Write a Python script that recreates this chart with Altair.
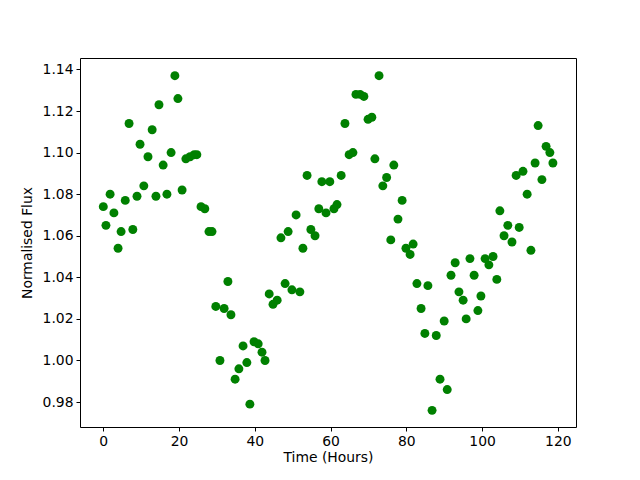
import altair as alt
import pandas as pd

hours = [0.0, 0.7, 1.8, 2.8, 3.9, 4.7, 5.8, 6.8, 7.8, 8.9, 9.7, 10.7, 11.8, 12.9, 13.9, 14.7,
         15.8, 16.8, 17.9, 18.9, 19.7, 20.8, 21.8, 22.9, 24.0, 24.7, 25.8, 26.8, 27.9, 28.7,
         29.7, 30.8, 31.9, 32.9, 33.7, 34.8, 35.8, 36.9, 37.9, 38.7, 39.8, 40.9, 41.9, 42.7,
         43.8, 44.8, 45.9, 46.9, 48.0, 48.8, 49.8, 50.9, 51.9, 52.7, 53.8, 54.8, 55.9, 56.9,
         57.7, 58.8, 59.8, 60.9, 61.7, 62.8, 63.8, 64.9, 65.9, 66.7, 67.8, 68.8, 69.9, 70.9,
         71.7, 72.8, 73.8, 74.8, 75.9, 76.7, 77.8, 78.9, 79.9, 81.0, 81.8, 82.8, 83.9, 84.9,
         85.7, 86.8, 87.9, 88.9, 90.0, 90.8, 91.8, 92.9, 93.9, 95.0, 95.8, 96.8, 97.9, 98.9,
         99.7, 100.8, 101.8, 102.9, 103.9, 104.7, 105.8, 106.8, 107.9, 109.0, 109.8, 110.8,
         111.9, 112.9, 114.0, 114.8, 115.8, 116.9, 117.9, 118.7]

flux = [1.074, 1.065, 1.080, 1.071, 1.054, 1.062, 1.077, 1.114, 1.063, 1.079, 1.104, 1.084,
        1.098, 1.111, 1.079, 1.123, 1.094, 1.080, 1.100, 1.137, 1.126, 1.082, 1.097, 1.098,
        1.099, 1.099, 1.074, 1.073, 1.062, 1.062, 1.026, 1.000, 1.025, 1.038, 1.022, 0.991,
        0.996, 1.007, 0.999, 0.979, 1.009, 1.008, 1.004, 1.000, 1.032, 1.027, 1.029, 1.059,
        1.037, 1.062, 1.034, 1.070, 1.033, 1.054, 1.089, 1.063, 1.060, 1.073, 1.086, 1.071,
        1.086, 1.073, 1.075, 1.089, 1.114, 1.099, 1.100, 1.128, 1.128, 1.127, 1.116, 1.117,
        1.097, 1.137, 1.084, 1.088, 1.058, 1.094, 1.068, 1.077, 1.054, 1.051, 1.056, 1.037,
        1.025, 1.013, 1.036, 0.976, 1.012, 0.991, 1.019, 0.986, 1.041, 1.047, 1.033, 1.029,
        1.020, 1.049, 1.041, 1.024, 1.031, 1.049, 1.046, 1.050, 1.039, 1.072, 1.060, 1.065,
        1.057, 1.089, 1.064, 1.091, 1.080, 1.053, 1.095, 1.113, 1.087, 1.103, 1.100, 1.095]

x_ticks = [0, 20, 40, 60, 80, 100, 120]
y_ticks = [0.98, 1.00, 1.02, 1.04, 1.06, 1.08, 1.10, 1.12, 1.14]

df = pd.DataFrame({"t": hours, "f": flux})

font = "DejaVu Sans"

chart = alt.Chart(df).mark_circle(color="#008000", opacity=1, size=80).encode(
    x=alt.X("t:Q", scale=alt.Scale(domain=[-6.15, 124.8], nice=False, zero=False),
            axis=alt.Axis(values=x_ticks, title="Time (Hours)", format="d")),
    y=alt.Y("f:Q", scale=alt.Scale(domain=[0.968, 1.1455], nice=False, zero=False),
            axis=alt.Axis(values=y_ticks, title="Normalised Flux", format=".2f")),
).properties(
    width=496, height=369,
    autosize=alt.AutoSizeParams(type="none"),
    padding={"left": 72, "top": 50, "right": 56, "bottom": 45},
).configure_view(
    stroke="black", strokeWidth=1
).configure_axis(
    grid=False, domain=False, tickColor="black", tickSize=4, tickWidth=1,
    labelFont=font, labelFontSize=13.9, labelColor="black", labelPadding=3,
    titleFont=font, titleFontSize=13.9, titleColor="black", titleFontWeight="normal",
).configure_axisX(titlePadding=3).configure_axisY(titlePadding=8)

chart.save("out.html", embed_options={"renderer": "svg", "actions": False})
